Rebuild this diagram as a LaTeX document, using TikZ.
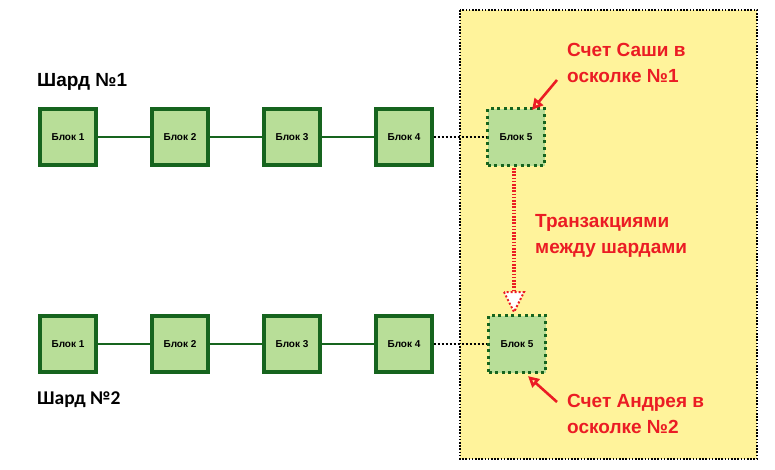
\documentclass[tikz,border=0pt]{standalone}
\usepackage{fontspec}
\setmainfont{Liberation Sans}
\newfontfamily\calfont{Carlito}
\usetikzlibrary{arrows.meta,calc}
\definecolor{blockfill}{RGB}{184,222,152}
\definecolor{blockdraw}{RGB}{22,100,30}
\definecolor{zone}{RGB}{255,243,155}
\definecolor{redtxt}{RGB}{235,28,36}
\tikzset{
  blockbox/.style={draw=blockdraw, fill=blockfill, line width=3.2pt, minimum width=56pt, minimum height=56pt, inner sep=0pt, font=\bfseries\fontsize{10}{11}\selectfont},
  dotbox/.style={draw=blockdraw, fill=blockfill, line width=3.2pt, line cap=butt, dash pattern=on 3pt off 3.6pt, minimum width=57pt, minimum height=57pt, inner sep=0pt, font=\bfseries\fontsize{10}{11}\selectfont},
  chain/.style={draw=blockdraw, line width=1.8pt},
  dotlink/.style={draw=black, line width=2pt, dash pattern=on 2pt off 2pt},
  note/.style={text=redtxt, font=\bfseries\fontsize{19}{26}\selectfont, align=left, anchor=west, inner sep=0pt},
  shardlbl/.style={font=\bfseries\fontsize{19}{21}\selectfont, anchor=west, inner sep=0pt},
  redarrow/.style={draw=redtxt, line width=2.6pt, -{Triangle[open, length=11pt, width=11pt]}},
}
\begin{document}
\begin{tikzpicture}[x=1pt, y=-1pt]
\useasboundingbox (0,0) rectangle (775,469);
% yellow zone
\draw[fill=zone, draw=black, line width=1.6pt, dash pattern=on 1.6pt off 1.6pt] (460,10) rectangle (757,459);

% shard labels
\node[shardlbl] (s1) at (37,82) {Шард №1};
\node[shardlbl, font=\calfont\bfseries\fontsize{19.5}{21}\selectfont] (s2) at (37,400) {Шард №2};

% row 1
\node[blockbox] (a1) at (68,137) {Блок 1};
\node[blockbox] (a2) at (180,137) {Блок 2};
\node[blockbox] (a3) at (292,137) {Блок 3};
\node[blockbox] (a4) at (404,137) {Блок 4};
\node[dotbox]   (a5) at (516,137) {Блок 5};
% row 2
\node[blockbox] (b1) at (68,344) {Блок 1};
\node[blockbox] (b2) at (180,344) {Блок 2};
\node[blockbox] (b3) at (292,344) {Блок 3};
\node[blockbox] (b4) at (404,344) {Блок 4};
\node[dotbox]   (b5) at (517,344) {Блок 5};

\draw[chain] (a1) -- (a2);
\draw[chain] (a2) -- (a3);
\draw[chain] (a3) -- (a4);
\draw[chain] (b1) -- (b2);
\draw[chain] (b2) -- (b3);
\draw[chain] (b3) -- (b4);
\draw[dotlink] (a4.east) -- (a5.west);
\draw[dotlink] (b4.east) -- (b5.west);

% transaction arrow
\coordinate (tstart) at (514,168);
\coordinate (ttip) at (514,312);
\draw[draw=redtxt, line width=4pt, dash pattern=on 1.6pt off 1.6pt] (tstart) -- (514,292);
\draw[draw=redtxt, fill=white, line width=2pt, dash pattern=on 2pt off 2pt] (504,292) -- (ttip) -- (524,292) -- cycle;

% notes
\node[note] (n1) at (567,63) {Счет Саши в\\осколке №1};
\node[note] (n2) at (535,236) {Транзакциями\\между шардами};
\node[note] (n3) at (567,414) {Счет Андрея в\\осколке №2};

\coordinate (p1) at (557,80);
\coordinate (p2) at (557,402);
\draw[redarrow] (p1) -- ($(a5.north)+(16,3)$);
\draw[redarrow] (p2) -- ($(b5.south)+(11,2)$);
\end{tikzpicture}
\end{document}
